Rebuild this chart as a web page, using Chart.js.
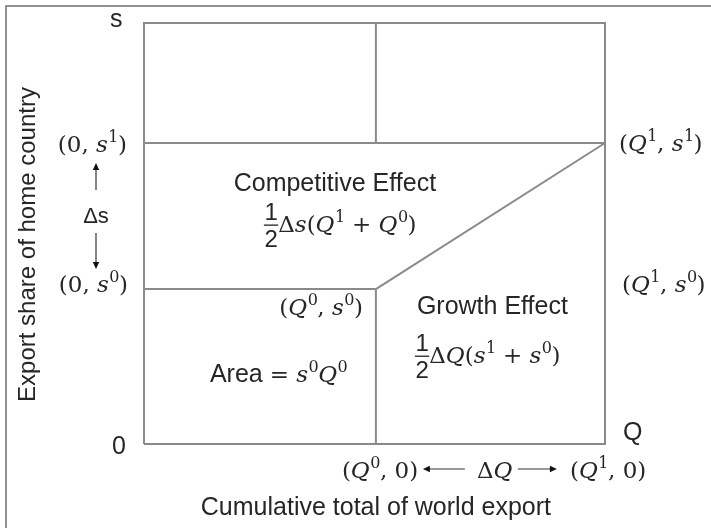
<!DOCTYPE html>
<html>
<head>
<meta charset="utf-8">
<script src="https://cdn.jsdelivr.net/npm/chart.js@4"></script>
<style>
  html, body { margin: 0; padding: 0; background: #fff; }
  canvas { display: block; }
</style>
</head>
<body>
<canvas id="c" width="711" height="528"></canvas>
<script>
// ---- data ----
const qLevels = [0, 50.3, 100];          // 0, Q0, Q1 (Q1 = right edge)
const sLevels = [0, 36.8, 71.5, 100];    // 0, s0, s1, top of axis
const Q0 = qLevels[1], Q1 = qLevels[2];
const S0 = sLevels[1], S1 = sLevels[2], STOP = sLevels[3];

// line segments of the diagram, as [q, s] pairs
const frameQ = [0, Q1, Q1, 0, 0];
const frameS = [0, 0, STOP, STOP, 0];
const segments = [
  [[Q0, S1], [Q0, STOP]],   // upper vertical
  [[0, S1], [Q1, S1]],      // s1 level
  [[0, S0], [Q0, S0]],      // s0 level
  [[Q0, 0], [Q0, S0]],      // Q0 vertical
  [[Q0, S0], [Q1, S1]]      // diagonal
];

const axisTitleX = 'Cumulative total of world export';
const axisTitleY = 'Export share of home country';
const regionLabels = ['Competitive Effect', 'Growth Effect', 'Area'];

const LINE = '#8a8a8a';
const TXT = '#262626';
const SERIF = '"DejaVu Serif"';
const SANS = '"Liberation Sans", Arial';

const datasets = [{
  data: frameQ.map((q, i) => ({x: q, y: frameS[i]})),
}].concat(segments.map(seg => ({ data: seg.map(p => ({x: p[0], y: p[1]})) })))
  .map(d => Object.assign(d, {
    showLine: true, borderColor: LINE, borderWidth: 2, pointRadius: 0,
    borderJoinStyle: 'miter', borderCapStyle: 'butt', clip: false, tension: 0
  }));

function runFont(kind, size) {
  if (kind === 'i') return 'italic ' + size + 'px ' + SERIF;
  if (kind === 's') return Math.round(size * 0.7) + 'px ' + SERIF;
  if (kind === 'S') return '25px ' + SANS;
  if (kind === 'f') return '24px ' + SANS;
  return size + 'px ' + SERIF;
}

function drawRuns(ctx, runs, x, y, align, size) {
  size = size || 23;
  const widths = runs.map(([t, k]) => {
    ctx.font = runFont(k, size);
    if (k === 'f') {
      const [n, d] = t.split('/');
      return Math.max(ctx.measureText(n).width, ctx.measureText(d).width) + 1;
    }
    return ctx.measureText(t).width;
  });
  const total = widths.reduce((a, b) => a + b, 0);
  let cx = align === 'right' ? x - total : align === 'center' ? x - total / 2 : x;
  ctx.textAlign = 'left';
  ctx.textBaseline = 'alphabetic';
  runs.forEach(([t, k], i) => {
    ctx.font = runFont(k, size);
    const w = widths[i];
    if (k === 'f') {
      const [n, d] = t.split('/');
      ctx.textAlign = 'center';
      ctx.fillText(n, cx + w / 2, y - 12);
      ctx.fillText(d, cx + w / 2, y + 15);
      ctx.fillRect(cx, y - 7.5, w, 1.3);
      ctx.textAlign = 'left';
    } else if (k === 's') {
      ctx.fillText(t, cx + 0.5, y - size * 0.43);
    } else {
      ctx.fillText(t, cx, y);
    }
    cx += w;
  });
}

function arrow(ctx, x1, y1, x2, y2) {
  const ang = Math.atan2(y2 - y1, x2 - x1);
  const L = 7, W = 3.2;
  ctx.save();
  ctx.strokeStyle = '#333';
  ctx.fillStyle = '#111';
  ctx.lineWidth = 1.2;
  ctx.beginPath();
  ctx.moveTo(x1, y1);
  ctx.lineTo(x2 - Math.cos(ang) * L * 0.8, y2 - Math.sin(ang) * L * 0.8);
  ctx.stroke();
  ctx.beginPath();
  ctx.moveTo(x2, y2);
  ctx.lineTo(x2 - Math.cos(ang) * L - Math.sin(ang) * W, y2 - Math.sin(ang) * L + Math.cos(ang) * W);
  ctx.lineTo(x2 - Math.cos(ang) * L + Math.sin(ang) * W, y2 - Math.sin(ang) * L - Math.cos(ang) * W);
  ctx.closePath();
  ctx.fill();
  ctx.restore();
}

const labelsPlugin = {
  id: 'labels',
  beforeDraw(chart) {
    const ctx = chart.ctx;
    ctx.save();
    ctx.fillStyle = '#fff';
    ctx.fillRect(0, 0, chart.width, chart.height);
    // outer frame of the figure
    ctx.strokeStyle = '#6e6e6e';
    ctx.lineWidth = 1.5;
    ctx.beginPath();
    ctx.moveTo(6, chart.height + 2);
    ctx.lineTo(6, 6);
    ctx.lineTo(chart.width + 2, 6);
    ctx.stroke();
    ctx.restore();
  },
  afterDraw(chart) {
    const ctx = chart.ctx;
    const xs = chart.scales.x, ys = chart.scales.y;
    const xL = xs.getPixelForValue(0), xM = xs.getPixelForValue(Q0), xR = xs.getPixelForValue(Q1);
    const yB = ys.getPixelForValue(0), y0 = ys.getPixelForValue(S0), y1 = ys.getPixelForValue(S1), yT = ys.getPixelForValue(STOP);
    ctx.save();
    ctx.fillStyle = TXT;

    // axis letters
    ctx.font = '25px ' + SANS;
    ctx.textAlign = 'left';
    ctx.textBaseline = 'alphabetic';
    ctx.fillText('s', xL - 34, yT + 4);
    ctx.fillText('0', xL - 32, yB + 10);
    ctx.fillText('Q', xR + 18, yB - 4);

    // left coordinates
    drawRuns(ctx, [['(0, ', 'r'], ['s', 'i'], ['1', 's'], [')', 'r']], xL - 17, y1 + 9, 'right');
    drawRuns(ctx, [['(0, ', 'r'], ['s', 'i'], ['0', 's'], [')', 'r']], xL - 16, y0 + 3, 'right');

    // delta s with arrows
    arrow(ctx, xL - 48, y1 + 47, xL - 48, y1 + 20);
    ctx.font = '22px ' + SANS;
    ctx.textAlign = 'center';
    ctx.fillText('Δs', xL - 48, y1 + 80);
    arrow(ctx, xL - 48, y1 + 90, xL - 48, y0 - 20);

    // right coordinates
    drawRuns(ctx, [['(', 'r'], ['Q', 'i'], ['1', 's'], [', ', 'r'], ['s', 'i'], ['1', 's'], [')', 'r']], xR + 14, y1 + 8, 'left');
    drawRuns(ctx, [['(', 'r'], ['Q', 'i'], ['1', 's'], [', ', 'r'], ['s', 'i'], ['0', 's'], [')', 'r']], xR + 17, y0 + 3, 'left');
    drawRuns(ctx, [['(', 'r'], ['Q', 'i'], ['0', 's'], [', ', 'r'], ['s', 'i'], ['0', 's'], [')', 'r']], xM - 13, y0 + 26, 'right');

    // region labels
    ctx.font = '25px ' + SANS;
    ctx.textAlign = 'center';
    ctx.fillText(regionLabels[0], xM - 41, y1 + 48);
    ctx.textAlign = 'left';
    ctx.fillText(regionLabels[1], xM + 41, y0 + 25);

    drawRuns(ctx, [['1/2', 'f'], ['Δ', 'r'], ['s', 'i'], ['(', 'r'], ['Q', 'i'], ['1', 's'], [' + ', 'r'], ['Q', 'i'], ['0', 's'], [')', 'r']], xM - 112, y1 + 89, 'left');
    drawRuns(ctx, [['1/2', 'f'], ['Δ', 'r'], ['Q', 'i'], ['(', 'r'], ['s', 'i'], ['1', 's'], [' + ', 'r'], ['s', 'i'], ['0', 's'], [')', 'r']], xM + 39, y0 + 74, 'left');
    drawRuns(ctx, [[regionLabels[2] + ' ', 'S'], ['= ', 'r'], ['s', 'i'], ['0', 's'], ['Q', 'i'], ['0', 's']], xM - 166, y0 + 93, 'left');

    // bottom coordinates with delta Q
    drawRuns(ctx, [['(', 'r'], ['Q', 'i'], ['0', 's'], [', 0)', 'r']], xM - 34, yB + 34, 'left');
    arrow(ctx, xM + 89, yB + 25, xM + 47, yB + 25);
    drawRuns(ctx, [['Δ', 'r'], ['Q', 'i']], xM + 101, yB + 34, 'left');
    arrow(ctx, xM + 142, yB + 25, xM + 181, yB + 25);
    drawRuns(ctx, [['(', 'r'], ['Q', 'i'], ['1', 's'], [', 0)', 'r']], xR - 35, yB + 34, 'left');

    // axis titles
    ctx.font = '25px ' + SANS;
    ctx.textAlign = 'center';
    ctx.fillText(axisTitleX, xM, yB + 71);
    ctx.save();
    ctx.translate(35, (yT + yB) / 2 + 11);
    ctx.rotate(-Math.PI / 2);
    ctx.font = '24px ' + SANS;
    ctx.fillText(axisTitleY, 0, 0);
    ctx.restore();

    ctx.restore();
  }
};

new Chart(document.getElementById('c'), {
  type: 'scatter',
  data: { datasets },
  options: {
    responsive: false,
    animation: false,
    devicePixelRatio: 1,
    layout: { padding: { left: 144, right: 106, top: 23, bottom: 84 } },
    plugins: { legend: { display: false }, tooltip: { enabled: false } },
    scales: {
      x: { type: 'linear', min: 0, max: 100, display: false },
      y: { type: 'linear', min: 0, max: 100, display: false }
    }
  },
  plugins: [labelsPlugin]
});
</script>
</body>
</html>
